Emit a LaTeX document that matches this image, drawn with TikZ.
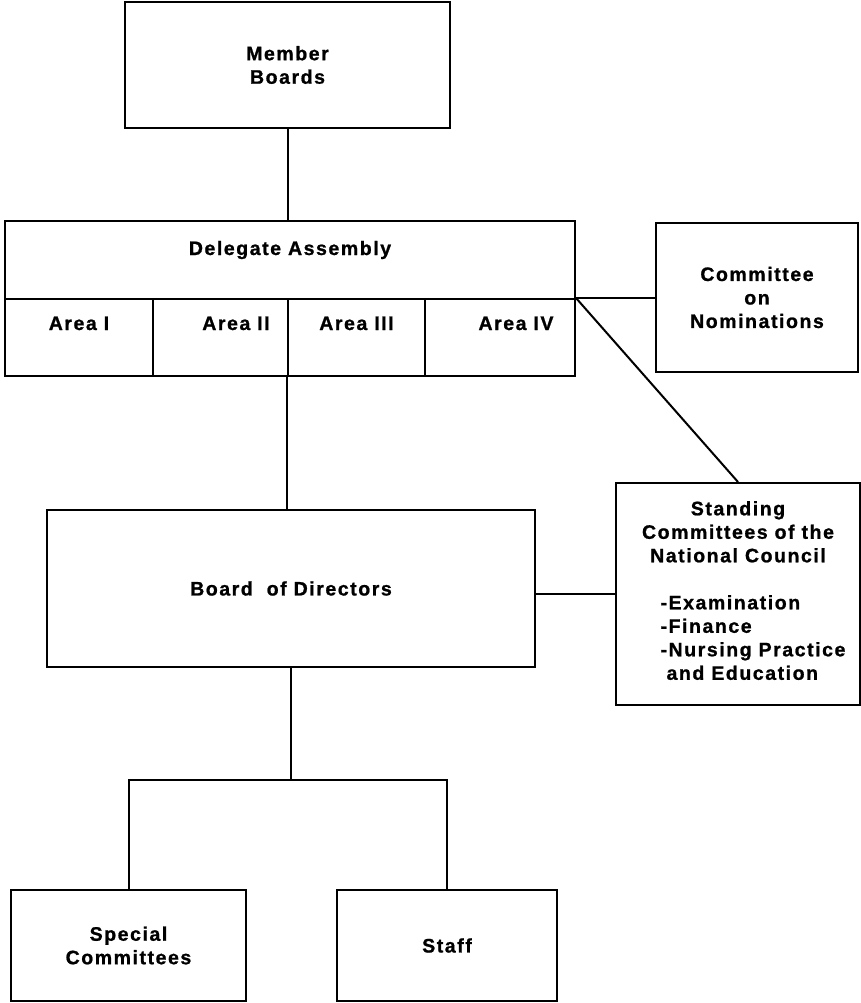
\documentclass[tikz,border=0pt]{standalone}
\usepackage{fontspec}
\newfontfamily\orgfont{Liberation Sans}[LetterSpace=8,FakeBold=1]
\usetikzlibrary{calc}
\begin{document}
\begin{tikzpicture}[x=1pt,y=-1pt,line width=2pt]
    \tikzstyle{box} = [draw,rectangle,inner sep=0pt,font=\orgfont\bfseries\fontsize{19.5}{23.5}\selectfont]
    \tikzstyle{area} = [box,minimum height=77,text height=14pt,text depth=29pt]
    \useasboundingbox (0,0) rectangle (860,1003);
    % top
    \node[box,align=center,minimum width=325,minimum height=126] (member) at (287.5,65) {Member\\Boards};
    \node[box,minimum width=570,minimum height=78,text height=14pt,text depth=24pt] (delegate) at (290,260) {Delegate Assembly};
    \node[area,minimum width=148] (area1) at (79,337.5) {Area I};
    \node[area,minimum width=135] (area2) at (220.5,337.5) {\hspace*{31pt}Area II};
    \node[area,minimum width=137] (area3) at (356.5,337.5) {Area III};
    \node[area,minimum width=150] (area4) at (500,337.5) {\hspace*{32pt}Area IV};
    \node[box,align=center,minimum width=202,minimum height=149] (nomin) at (757,297.5) {Committee\\on\\Nominations};
    % middle
    \node[box,align=center,minimum width=244,minimum height=222] (stand) at (738,594)
      {Standing\\Committees of the\\National Council\\[23.5pt]\hspace*{30pt}\begin{tabular}[t]{@{}l@{}}-Examination\\-Finance\\-Nursing Practice\\\hspace*{6pt}and Education\end{tabular}};
    \node[box,minimum width=488,minimum height=157] (board) at (291,588.5) {Board\ \ of Directors};
    % bottom
    \node[box,align=center,minimum width=235,minimum height=111] (special) at (128.5,945.5) {Special\\Committees};
    \node[box,minimum width=220,minimum height=111] (staff) at (447,945.5) {Staff};
    \coordinate (fork) at (290,780);
    % connectors
    \draw (member.south) -- (member.south |- delegate.north);
    \draw (area3.south west) -- (area3.south west |- board.north);
    \draw (area4.north east) -- (area4.north east -| nomin.west);
    \draw (area4.north east) -- (stand.north);
    \draw (board.east |- stand.west) -- (stand.west);
    \draw (board.south) -- (board.south |- fork);
    \draw (special.north) |- (fork) -| (staff.north);
\end{tikzpicture}
\end{document}
